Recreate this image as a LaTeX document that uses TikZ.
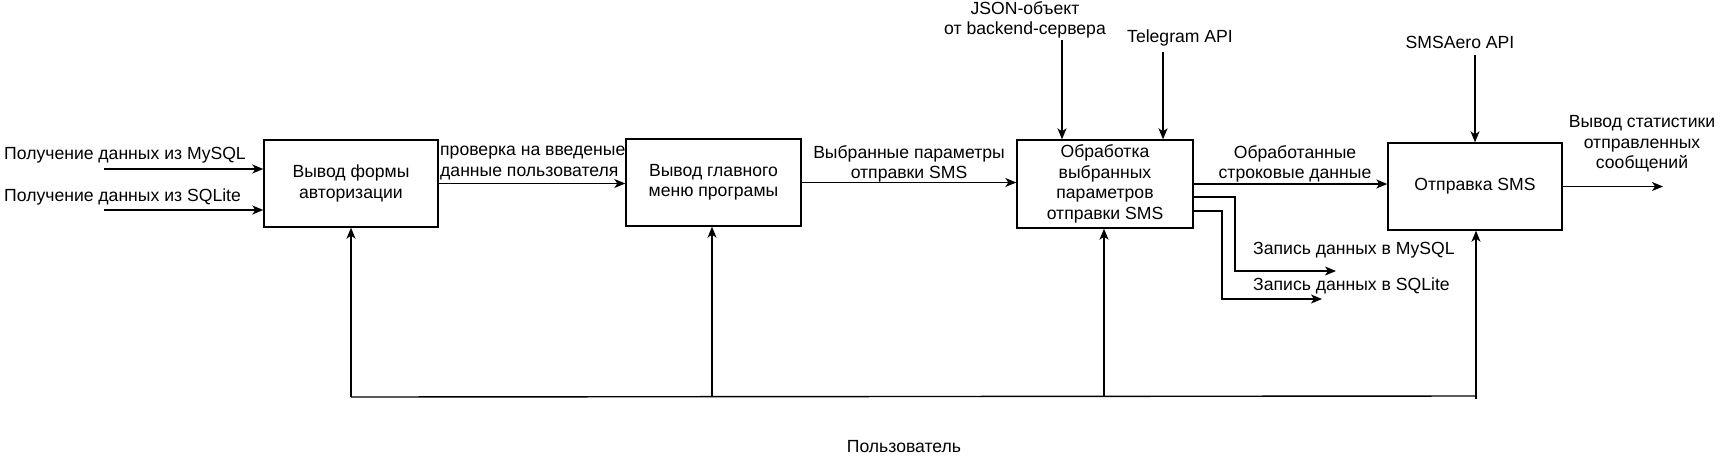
\documentclass[tikz,border=0pt]{standalone}
\usepackage{fontspec}
\setmainfont{Liberation Sans}
\usetikzlibrary{arrows.meta}
\tikzset{
  blk/.style={draw, line width=1.4pt, minimum width=174pt, minimum height=87pt, inner sep=0pt, align=center, font=\fontsize{17.6}{20.5}\selectfont},
  lbl/.style={inner sep=0pt, align=center, font=\fontsize{17.6}{20.5}\selectfont},
  lbll/.style={inner sep=0pt, align=left, font=\fontsize{17.6}{20.5}\selectfont},
  flow/.style={line width=1.4pt, -{Stealth[length=11pt,width=9pt,inset=3pt]}},
  ctrl/.style={line width=1.2pt, -{Stealth[length=11pt,width=9pt,inset=3pt]}},
}
\begin{document}
\begin{tikzpicture}[x=1pt,y=-1pt]
\useasboundingbox (0,0) rectangle (1721,459);
% blocks
\node[blk] (b1) at (351,183.5) {Вывод формы\\авторизации};
\node[blk, minimum width=175pt] (b2) at (713.5,182.5) {Вывод главного\\меню програмы};
\node[blk, minimum width=176pt, minimum height=88pt] (b3) at (1105,184) {Обработка\\выбранных\\параметров\\отправки SMS};
\node[blk] (b4) at (1475,186.5) {Отправка SMS};
% coordinates
\coordinate (in1) at (104,169);
\coordinate (in2) at (104,210);
\coordinate (json) at (1062,40);
\coordinate (tg) at (1163,52);
\coordinate (sa) at (1475,55);
\coordinate (out) at (1663,186.5);
\coordinate (m1) at (1193,197);
\coordinate (m1a) at (1235,197);
\coordinate (m1b) at (1235,271);
\coordinate (m1e) at (1336,271);
\coordinate (m2) at (1193,211);
\coordinate (m2a) at (1222,211);
\coordinate (m2b) at (1222,299);
\coordinate (m2e) at (1322,299);
\coordinate (u1) at (351,397);
\coordinate (u2) at (712,397);
\coordinate (u3) at (1104,396.5);
\coordinate (u4) at (1476,396);
\coordinate (u4b) at (1476,399);
% labels
\node[lbl, anchor=west] (t1) at (4,155) {Получение данных из MySQL};
\node[lbl, anchor=west] (t2) at (4,197) {Получение данных из SQLite};
\node[lbll, anchor=west] (t3) at (440,163) {проверка на введеные\\данные пользователя};
\node[lbl] (t4) at (909,164) {Выбранные параметры\\отправки SMS};
\node[lbl] (t5) at (1025,20) {JSON-объект\\от backend-сервера};
\node[lbl] (t6) at (1180,38) {Telegram API};
\node[lbl] (t7) at (1295,164) {Обработанные\\строковые данные};
\node[lbl] (t8) at (1460,42) {SMSAero API};
\node[lbl] (t9) at (1642,144) {Вывод статистики\\отправленных\\сообщений};
\node[lbl, anchor=west] (t10) at (1253,250) {Запись данных в MySQL};
\node[lbl, anchor=west] (t11) at (1253,286) {Запись данных в SQLite};
\node[lbl] (t12) at (904,447) {Пользователь};
% flows
\draw[flow] (in1) -- (in1 -| b1.west);
\draw[flow] (in2) -- (in2 -| b1.west);
\draw[flow] (b1.east) -- (b1.east -| b2.west);
\draw[flow] (b2.east) -- (b2.east -| b3.west);
\draw[flow] (b3.east) -- (b3.east -| b4.west);
\draw[flow] (b4.east) -- (out);
\draw[flow] (m1) -- (m1a) -- (m1b) -- (m1e);
\draw[flow] (m2) -- (m2a) -- (m2b) -- (m2e);
\draw[flow] (json) -- (json |- b3.north);
\draw[flow] (tg) -- (tg |- b3.north);
\draw[flow] (sa) -- (sa |- b4.north);
% user mechanism
\draw[line width=1.4pt] (u1) -- (u4);
\draw[ctrl] (u1) -- (b1.south);
\draw[ctrl] (u2) -- (u2 |- b2.south);
\draw[ctrl] (u3) -- (u3 |- b3.south);
\draw[ctrl] (u4b) -- (u4b |- b4.south);
\end{tikzpicture}
\end{document}
